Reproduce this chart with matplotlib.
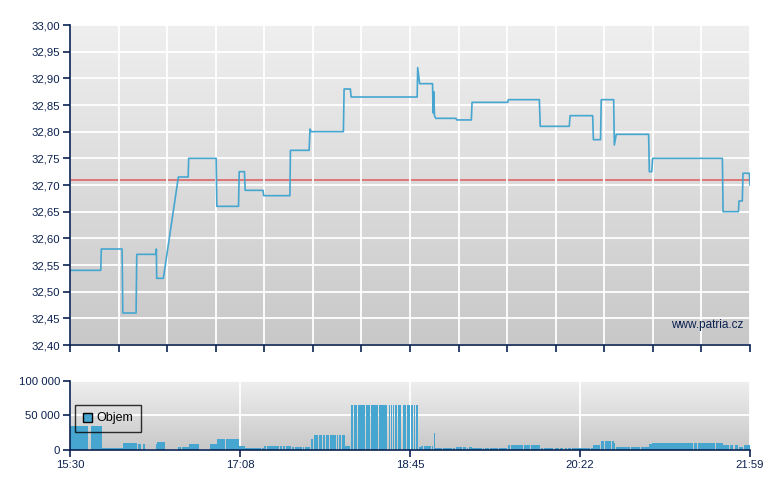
import matplotlib
matplotlib.use('Agg')
import matplotlib.pyplot as plt
import matplotlib.patches as mpatches
import numpy as np

plt.rcParams['font.family'] = ['Liberation Sans', 'DejaVu Sans']

# minutes after 15:30, price (vertices of the intraday line)
price_t = [0, 17.6, 17.9, 29.8, 30.2, 37.8, 38.2, 49.2, 49.4, 49.6, 53.4, 62.0, 67.6, 67.9,
           83.6, 84.0, 96.4, 96.8, 99.8, 100.2, 110.4, 110.8, 125.8, 126.1, 136.8, 137.3,
           138.0, 156.4, 156.8, 160.4, 160.8, 198.6, 198.9, 200.0, 207.4, 207.7, 208.1,
           208.5, 209.2, 220.8, 221.2, 229.6, 230.0, 250.4, 250.8, 268.5, 269.0, 285.6,
           286.1, 299.0, 299.4, 303.5, 303.9, 311.0, 311.4, 312.5, 331.0, 331.4, 332.8,
           333.3, 373.2, 373.6, 382.4, 382.7, 384.6, 385.0, 388.6, 389.0]
price_v = [32.54, 32.54, 32.58, 32.58, 32.46, 32.46, 32.57, 32.57, 32.58, 32.525, 32.525,
           32.715, 32.715, 32.75, 32.75, 32.66, 32.66, 32.725, 32.725, 32.69, 32.69, 32.68,
           32.68, 32.765, 32.765, 32.805, 32.80, 32.80, 32.88, 32.88, 32.865, 32.865, 32.92,
           32.89, 32.89, 32.835, 32.875, 32.83, 32.825, 32.825, 32.822, 32.822, 32.855,
           32.855, 32.86, 32.86, 32.81, 32.81, 32.83, 32.83, 32.785, 32.785, 32.86, 32.86,
           32.775, 32.795, 32.795, 32.725, 32.725, 32.75, 32.75, 32.65, 32.65, 32.67, 32.67,
           32.722, 32.722, 32.70]
prev_close = 32.71

# volume bars: start, end (minutes after 15:30), volume
vol_start = [0, 11.8, 18.3, 19.3, 30.3, 38.9, 41.6, 49.2, 49.9, 61.8, 64.1, 68.1, 80.1, 81.4,
             84.1, 89.2, 96.7, 100.1, 104.3, 109.7, 111.0, 112.5, 120.0, 121.7, 123.4, 126.8,
             128.5, 130.0, 133.5, 134.4, 137.7, 139.6, 142.3, 144.6, 146.4, 148.7, 152.6,
             154.1, 155.4, 157.3, 159.6, 160.7, 162.5, 164.6, 169.3, 172.2, 176.6, 182.3,
             183.6, 184.8, 185.7, 187.5, 190.3, 192.6, 195.1, 196.8, 197.8, 199.5, 200.8,
             202.5, 206.9, 208.1, 208.6, 211.8, 213.4, 218.9, 220.8, 224.8, 226.9, 228.1,
             230.0, 236.1, 237.4, 240.3, 245.4, 250.6, 252.1, 259.5, 263.7, 269.4, 271.2,
             277.5, 280.3, 283.2, 284.7, 287.2, 292.5, 298.0, 299.4, 303.8, 306.0, 309.9,
             311.4, 312.2, 320.8, 326.5, 331.2, 333.1, 357.0, 359.1, 369.6, 371.9, 373.7,
             377.6, 380.2, 382.8, 385.6]
vol_end = [10.3, 18.3, 19.3, 30.3, 38.3, 40.4, 42.9, 49.9, 54.5, 63.7, 67.9, 73.8, 81.2, 83.9,
           88.8, 96.7, 100.1, 103.9, 109.3, 111.0, 112.1, 119.6, 121.3, 123.0, 126.4, 128.1,
           129.7, 132.7, 134.0, 137.3, 139.2, 141.9, 144.0, 146.1, 148.2, 152.2, 153.5,
           155.0, 157.3, 159.4, 160.2, 161.9, 164.0, 168.8, 171.6, 176.0, 181.3, 183.1,
           184.2, 185.3, 186.9, 189.4, 192.2, 194.5, 196.4, 197.5, 199.1, 200.8, 202.1,
           206.5, 207.8, 208.6, 211.7, 212.8, 218.4, 220.4, 224.4, 226.5, 227.5, 230.0,
           235.5, 236.8, 239.5, 244.8, 250.2, 251.7, 259.0, 263.2, 268.9, 270.4, 276.5,
           279.7, 282.2, 284.1, 286.4, 292.1, 297.5, 299.0, 303.2, 305.7, 309.5, 311.4,
           311.8, 320.4, 326.1, 331.2, 332.8, 356.6, 358.5, 369.0, 371.9, 373.6, 377.0,
           379.4, 382.3, 385.2, 389.0]
vol = [35000, 35000, 3400, 3000, 10000, 8700, 8700, 8700, 11500, 4800, 4800, 8700, 8700, 8700,
       16400, 16400, 6300, 2900, 2900, 2900, 6300, 6300, 6300, 6300, 6300, 4300,
       4300, 4300, 4300, 4300, 16400, 22000, 22000, 22000, 22000, 22000, 22000,
       22000, 22000, 6300, 6300, 65000, 65000, 65000, 65000, 65000, 65000, 65000,
       65000, 65000, 65000, 65000, 65000, 65000, 65000, 65000, 65000, 4800, 6300,
       6300, 6300, 24500, 2900, 2900, 2900, 2900, 4800, 4800, 2900, 4800,
       2900, 2900, 2900, 2900, 2900, 7700, 7700, 7700, 7700, 2900, 2900,
       2900, 2900, 2900, 2900, 2900, 2900, 2900, 7700, 13500, 13500, 13500,
       10100, 4800, 4800, 4800, 8700, 10100, 10100, 10100, 10100, 10100, 7700,
       7700, 7700, 4800, 7700]

x_labels = ['15:30', '17:08', '18:45', '20:22', '21:59']
t_end = 389

navy = '#0b2150'
blue = '#46a6d0'

fig = plt.figure(figsize=(7.8, 4.9), dpi=100)
ax1 = fig.add_axes([70 / 780, 1 - 345 / 490, 680 / 780, 320 / 490])
ax2 = fig.add_axes([70 / 780, 1 - 450 / 490, 680 / 780, 69.3 / 490])

grad = np.linspace(0, 1, 256).reshape(-1, 1)
bg_cmap = matplotlib.colors.LinearSegmentedColormap.from_list('bg', ['#efefef', '#c8c8c8'])
for ax in (ax1, ax2):
    ax.imshow(grad, extent=[0, 1, 0, 1], transform=ax.transAxes, aspect='auto',
              cmap=bg_cmap, zorder=0)
    ax.grid(True, color='white', linewidth=1.3, zorder=1)
    ax.set_axisbelow(False)
    for s in ['top', 'right']:
        ax.spines[s].set_visible(False)
    for s in ['left', 'bottom']:
        ax.spines[s].set_color(navy)
        ax.spines[s].set_linewidth(1.2)
        ax.spines[s].set_zorder(5)
    ax.tick_params(colors=navy, labelcolor=navy, labelsize=8.2, length=5, width=1.2, pad=2)
    ax.set_xlim(0, t_end)

# price panel
ax1.plot(price_t, price_v, color=blue, linewidth=1.2, zorder=3)
ax1.axhline(prev_close, color='#e03030', alpha=0.7, linewidth=1.2, zorder=2)
ax1.set_ylim(32.40, 33.00)
yt = np.arange(32.40, 33.001, 0.05)
ax1.set_yticks(yt)
ax1.set_yticklabels([('%.2f' % v).replace('.', ',') for v in yt])
ax1.set_xticks(np.linspace(0, t_end, 15))
ax1.set_xticklabels([])
ax1.text(0.99, 0.045, 'www.patria.cz', transform=ax1.transAxes, ha='right', va='bottom',
         color=navy, fontsize=8.5, zorder=4)

# volume panel
ax2.bar(vol_start, vol, width=np.array(vol_end) - np.array(vol_start), align='edge',
        color=blue, linewidth=0, zorder=3)
ax2.set_ylim(0, 100000)
ax2.set_yticks([0, 50000, 100000])
ax2.set_yticklabels(['0', '50 000', '100 000'])
ax2.set_xticks(np.linspace(0, t_end, 5))
ax2.set_xticklabels(x_labels)
handle = mpatches.Patch(facecolor=blue, edgecolor='black', linewidth=1, label='Objem')
leg = ax2.legend(handles=[handle], loc='upper left', bbox_to_anchor=(0.0074, 0.65),
                 frameon=True, fancybox=False, fontsize=9, handlelength=0.75,
                 handleheight=0.75, handletextpad=0.35, borderpad=0.6, borderaxespad=0)
leg.get_frame().set_facecolor('none')
leg.get_frame().set_edgecolor('black')
leg.get_frame().set_linewidth(1)
leg.set_zorder(6)

fig.savefig('out.png', dpi=100)
